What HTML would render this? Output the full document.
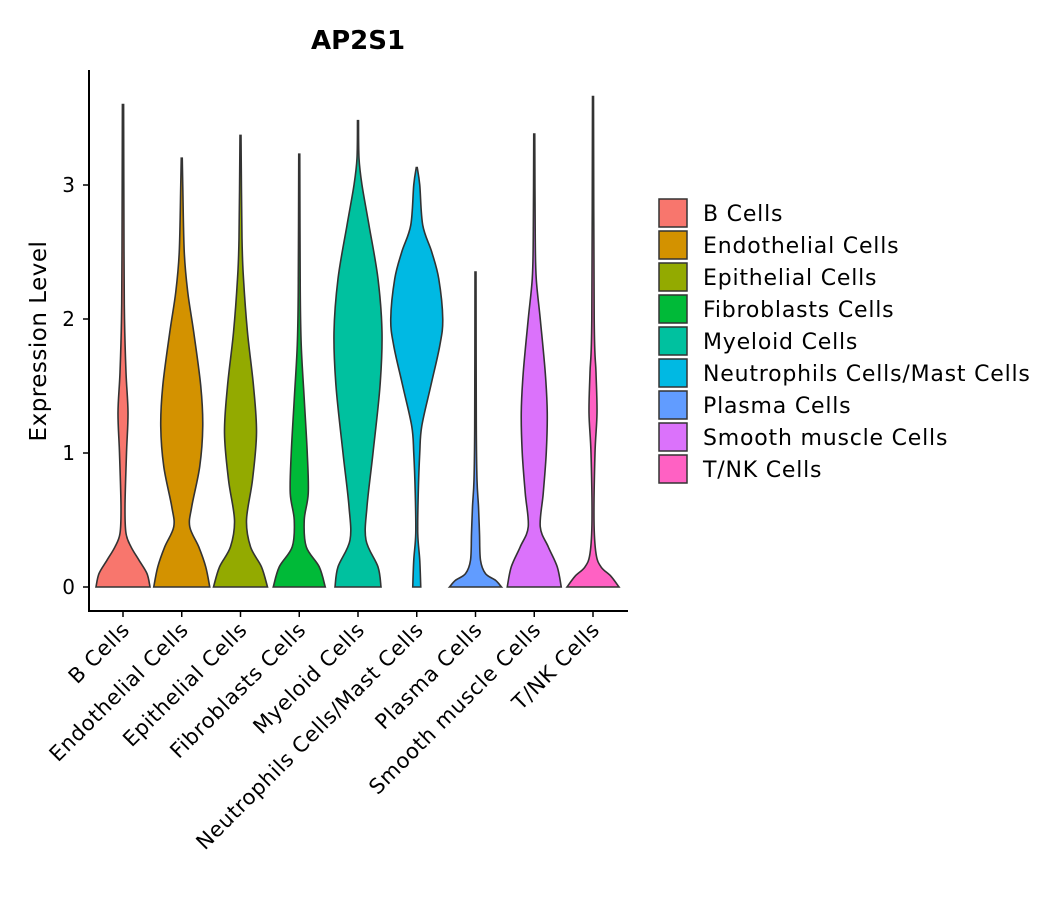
<!DOCTYPE html>
<html><head><meta charset="utf-8"><style>
body{margin:0;background:#fff;}
svg text{font-family:"DejaVu Sans","Liberation Sans",sans-serif;}
</style></head><body>
<svg id="chart" width="1057" height="900" viewBox="0 0 1057 900" xmlns="http://www.w3.org/2000/svg">
<rect width="1057" height="900" fill="#fff"/>
<text x="358" y="49" font-size="26" font-weight="bold" text-anchor="middle">AP2S1</text>
<text transform="translate(46,341) rotate(-90)" font-size="23" letter-spacing="0.5" text-anchor="middle">Expression Level</text>
<g id="plot"></g>
<g id="legend"></g>
</svg>
<script>
const categories=["B Cells","Endothelial Cells","Epithelial Cells","Fibroblasts Cells","Myeloid Cells","Neutrophils Cells/Mast Cells","Plasma Cells","Smooth muscle Cells","T/NK Cells"];
const colors=["#F8766D","#D39200","#93AA00","#00BA38","#00C19F","#00B9E3","#619CFF","#DB72FB","#FF61C3"];
const yTicks=[0,1,2,3];
// density profiles: [expression value, half-width (px at full scale)]
const bCells=[[0,27],[0.1,24],[0.2,16],[0.3,8],[0.4,3],[0.6,2],[1.0,3.5],[1.3,5],[1.6,3],[2.0,1.5],[2.5,1],[3.6,0.6]];
const endothelial=[[0,28],[0.15,24],[0.3,17],[0.45,8],[0.6,10],[0.9,18],[1.2,21],[1.5,19],[1.9,12],[2.2,6],[2.5,2.5],[3.0,1],[3.2,0.5]];
const epithelial=[[0,27],[0.15,21],[0.3,10],[0.5,6],[0.8,12],[1.15,16],[1.5,13],[1.9,7],[2.3,3],[2.6,1.5],[3.37,0.5]];
const fibroblasts=[[0,26],[0.15,20],[0.3,7],[0.5,5],[0.7,9],[1.0,8],[1.4,5],[1.8,2],[2.2,1],[3.23,0.5]];
const myeloid=[[0,23],[0.15,20],[0.35,8],[0.6,9],[1.0,15],[1.5,22],[1.9,24],[2.3,20],[2.7,11],[3.0,4],[3.2,1],[3.48,0.5]];
const neutrophils=[[0,4],[0.2,3],[0.4,1],[0.7,1.5],[1.0,3],[1.2,5],[1.5,14],[1.8,23],[2.0,26],[2.3,22],[2.5,15],[2.7,6],[3.0,3],[3.13,0.5]];
const plasma=[[0,26],[0.05,20],[0.1,10],[0.2,5],[0.4,4],[0.6,3],[0.8,1.5],[1.2,0.8],[2.35,0.5]];
const smooth=[[0,27],[0.15,23],[0.3,14],[0.45,6],[0.7,9],[1.0,12],[1.3,13],[1.6,11],[2.0,6],[2.3,2],[2.6,1],[3.38,0.5]];
const tnk=[[0,26],[0.08,18],[0.15,8],[0.25,3],[0.5,1],[1.0,2],[1.3,4],[1.6,3],[2.0,1.2],[3.66,0.5]];
const profiles=[bCells,endothelial,epithelial,fibroblasts,myeloid,neutrophils,plasma,smooth,tnk];

const NS="http://www.w3.org/2000/svg";
const plot=document.getElementById('plot');
const x0=89,x1=628,yBase=611;
const xScale=i=>123+i*58.75;
const yScale=v=>587-134*v;
function mk(t,a,p){const e=document.createElementNS(NS,t);for(const k in a)e.setAttribute(k,a[k]);(p||plot).appendChild(e);return e;}
function spline(pts){let d="M"+pts[0][0]+","+pts[0][1];for(let i=0;i<pts.length-1;i++){const p0=pts[Math.max(i-1,0)],p1=pts[i],p2=pts[i+1],p3=pts[Math.min(i+2,pts.length-1)];
const c1=[p1[0]+(p2[0]-p0[0])/6,p1[1]+(p2[1]-p0[1])/6],c2=[p2[0]-(p3[0]-p1[0])/6,p2[1]-(p3[1]-p1[1])/6];
d+=" C"+c1[0]+","+c1[1]+" "+c2[0]+","+c2[1]+" "+p2[0]+","+p2[1];}return d;}
profiles.forEach((prof,i)=>{
 const cx=xScale(i);
 const right=prof.map(p=>[cx+p[1],yScale(p[0])]);
 const left=prof.slice().reverse().map(p=>[cx-p[1],yScale(p[0])]);
 const top=prof[prof.length-1];
 const d=spline(right)+" L"+(cx-top[1])+","+yScale(top[0])+" "+spline(left).replace(/^M[^ ]+/,"")+" Z";
 const path=mk('path',{d:d,fill:colors[i],stroke:"#333",'stroke-width':1.6});
 
 
 const tk=mk('line',{x1:cx,x2:cx,y1:yBase,y2:yBase+6,stroke:"#000",'stroke-width':1.5});
 
 
 const lb=mk('text',{transform:`translate(${cx+8},${yBase+20}) rotate(-45)`,'font-size':21,'letter-spacing':0.7,'text-anchor':'end'});
 lb.textContent=categories[i];
 
 
});
yTicks.forEach(v=>{
 const t=mk('line',{x1:x0-6,x2:x0,y1:yScale(v),y2:yScale(v),stroke:"#000",'stroke-width':1.5});
 
 
 const l=mk('text',{x:x0-14,y:yScale(v)+7,'font-size':20,'text-anchor':'end'});
 l.textContent=v;
 
 
});
const ya=mk('line',{x1:x0,x2:x0,y1:70,y2:yBase+1,stroke:"#000",'stroke-width':2});


const xa=mk('line',{x1:x0-1,x2:x1,y1:yBase,y2:yBase,stroke:"#000",'stroke-width':2});


const lg=document.getElementById('legend');


categories.forEach((c,i)=>{
 const y=199+i*32;
 const r=mk('rect',{x:659,y:y,width:28,height:28,fill:colors[i],stroke:"#333",'stroke-width':1.5},lg);
 
 
 const t=mk('text',{x:703,y:y+22,'font-size':22,'letter-spacing':0.8},lg);
 t.textContent=c;
 
 
});
</script>
</body></html>
